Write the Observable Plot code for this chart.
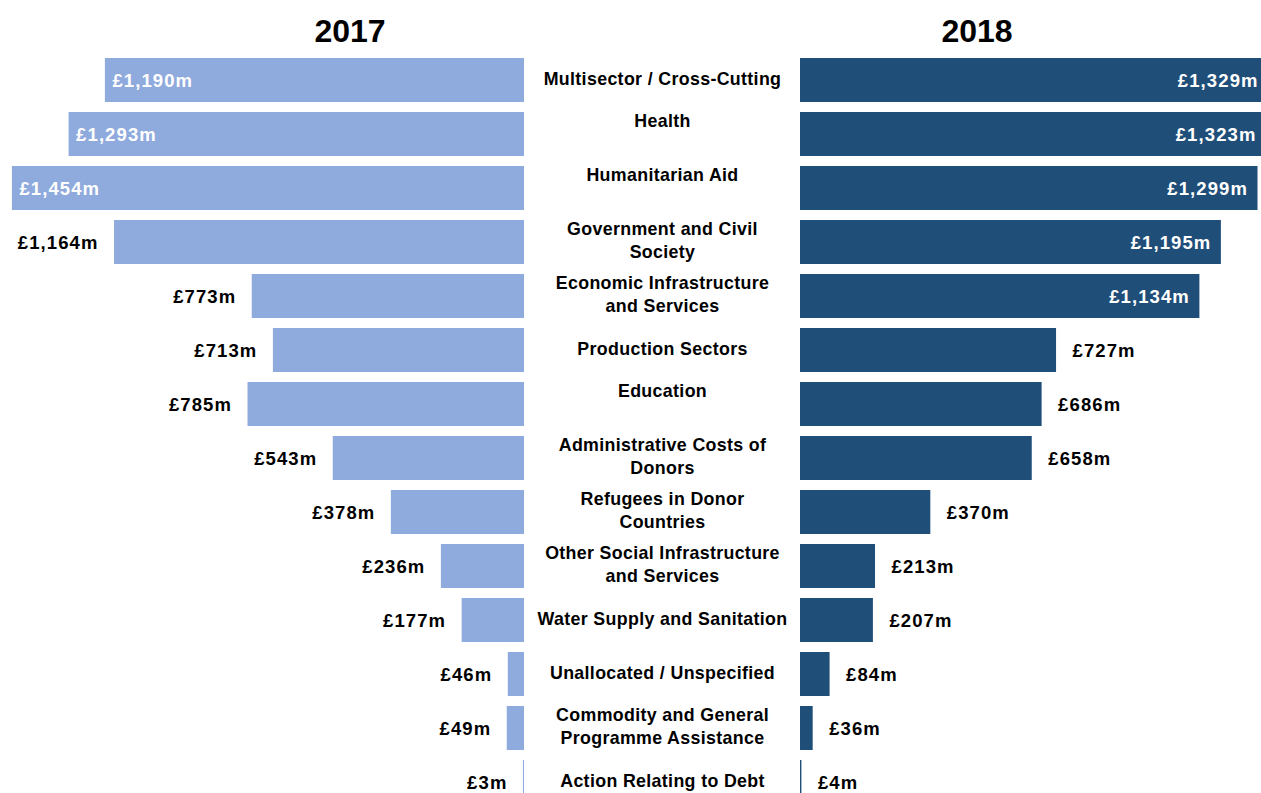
<!DOCTYPE html>
<html>
<head>
<meta charset="utf-8">
<script src="https://cdn.jsdelivr.net/npm/d3@7"></script>
<script src="https://cdn.jsdelivr.net/npm/@observablehq/plot@0.6"></script>
<style>
  html, body { margin: 0; padding: 0; background: #ffffff; overflow: hidden; }
  body { width: 1261px; height: 793px; font-family: "Liberation Sans", Arial, sans-serif; }
  #header { position: relative; height: 52px; }
  .year { position: absolute; top: 15px; font-size: 32px; line-height: 32px; font-weight: bold; color: #000; transform: translateX(-50%); }
  #row { display: flex; flex-direction: row; align-items: flex-start; }
  #row svg { display: block; flex: none; }
</style>
</head>
<body>
<div id="header">
  <div class="year" id="t2017" style="left:350px">2017</div>
  <div class="year" id="t2018" style="left:977px">2018</div>
</div>
<div id="row"></div>
<script>
const years = ["2017", "2018"];
const categories = [
  "Multisector / Cross-Cutting",
  "Health\n",
  "Humanitarian Aid\n",
  "Government and Civil\nSociety",
  "Economic Infrastructure\nand Services",
  "Production Sectors",
  "Education\n",
  "Administrative Costs of\nDonors",
  "Refugees in Donor\nCountries",
  "Other Social Infrastructure\nand Services",
  "Water Supply and Sanitation",
  "Unallocated / Unspecified",
  "Commodity and General\nProgramme Assistance",
  "Action Relating to Debt"
];
const values2017 = [1190, 1293, 1454, 1164, 773, 713, 785, 543, 378, 236, 177, 46, 49, 3];
const values2018 = [1329, 1323, 1299, 1195, 1134, 727, 686, 658, 370, 213, 207, 84, 36, 4];

const rows = categories.map((c, i) => ({category: c, v2017: values2017[i], v2018: values2018[i]}));
const fmt = v => "£" + d3.format(",")(v) + "m";

const H = 741;
const yScale = {type: "band", domain: categories, range: [1, 757], paddingInner: 0.18, paddingOuter: 0.09, align: 0.5, axis: null};
const PX_PER_M = 0.3522;
const insideLeft = 1170, insideRight = 1000;
const lightBlue = "#8faadc", darkBlue = "#1f4e79";
const valueFont = 18.5;

// Left panel (2017), bars growing leftward
const leftW = 524;
const left = Plot.plot({
  width: leftW, height: H,
  marginLeft: 0, marginRight: 0, marginTop: 0, marginBottom: 0,
  style: {fontFamily: "Liberation Sans, Arial, sans-serif", letterSpacing: "1.1px", overflow: "hidden", background: "white"},
  x: {domain: [0, leftW / PX_PER_M], range: [leftW, 0], axis: null},
  y: yScale,
  marks: [
    Plot.barX(rows, {x1: 0, x2: "v2017", y: "category", fill: lightBlue, clip: true}),
    Plot.text(rows.filter(d => d.v2017 >= insideLeft), {x: "v2017", y: "category", text: d => fmt(d.v2017), textAnchor: "start", dx: 7, dy: 1, fill: "white", fontSize: valueFont, fontWeight: "bold"}),
    Plot.text(rows.filter(d => d.v2017 < insideLeft), {x: "v2017", y: "category", text: d => fmt(d.v2017), textAnchor: "end", dx: -16, dy: 1, fill: "black", fontSize: valueFont, fontWeight: "bold"})
  ]
});

// Middle panel: category labels
const midW = 276;
const mid = Plot.plot({
  width: midW, height: H,
  marginLeft: 0, marginRight: 0, marginTop: 0, marginBottom: 0,
  style: {fontFamily: "Liberation Sans, Arial, sans-serif", letterSpacing: "0.35px", overflow: "hidden", background: "white"},
  y: yScale,
  marks: [
    Plot.text(rows, {y: "category", text: "category", textAnchor: "middle", dy: -3, fill: "black", fontSize: 17.8, fontWeight: "bold", lineHeight: 1.3})
  ]
});

// Right panel (2018), bars growing rightward
const rightW = 461;
const right = Plot.plot({
  width: rightW, height: H,
  marginLeft: 0, marginRight: 0, marginTop: 0, marginBottom: 0,
  style: {fontFamily: "Liberation Sans, Arial, sans-serif", letterSpacing: "1.1px", overflow: "hidden", background: "white"},
  x: {domain: [0, rightW / PX_PER_M], range: [0, rightW], axis: null},
  y: yScale,
  marks: [
    Plot.barX(rows, {x1: 0, x2: "v2018", y: "category", fill: darkBlue, clip: true}),
    Plot.text(rows.filter(d => d.v2018 >= insideRight), {x: "v2018", y: "category", text: d => fmt(d.v2018), textAnchor: "end", dx: -10, dy: 1, fill: "white", fontSize: valueFont, fontWeight: "bold"}),
    Plot.text(rows.filter(d => d.v2018 < insideRight), {x: "v2018", y: "category", text: d => fmt(d.v2018), textAnchor: "start", dx: 16, dy: 1, fill: "black", fontSize: valueFont, fontWeight: "bold"})
  ]
});

const row = document.getElementById("row");
row.appendChild(left);
row.appendChild(mid);
row.appendChild(right);
document.getElementById("t2017").textContent = years[0];
document.getElementById("t2018").textContent = years[1];
</script>
</body>
</html>
